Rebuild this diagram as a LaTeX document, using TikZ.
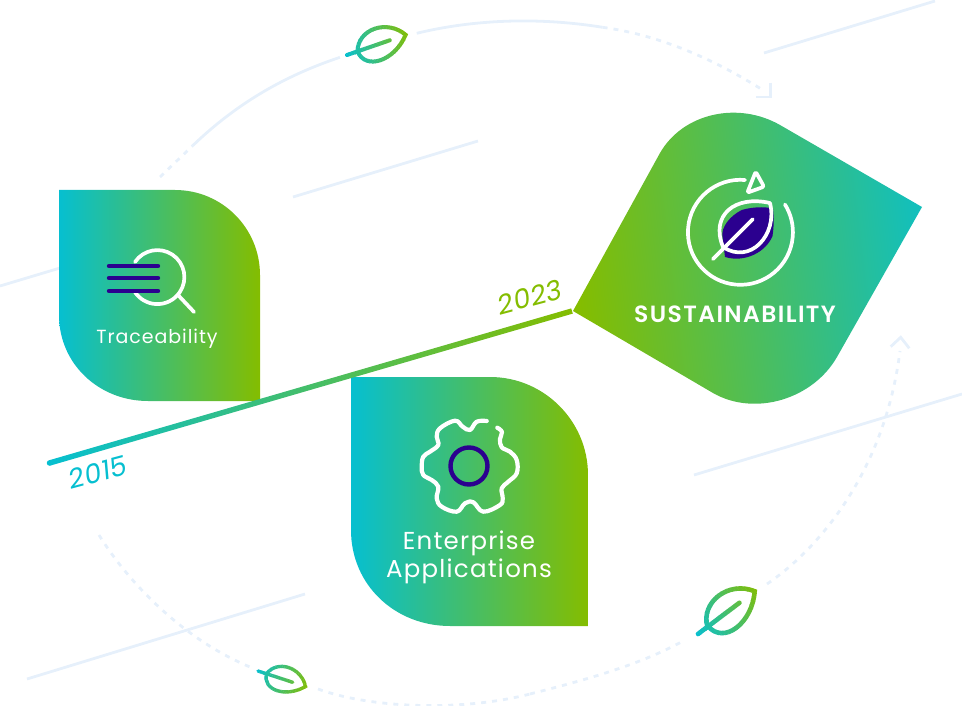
\documentclass[tikz,border=0pt]{standalone}
\usepackage{fontspec}
\usepackage{xcolor}
\usepackage{tikz}
\setmainfont{Poppins}
\newfontfamily\spacedfont[LetterSpace=5]{Poppins}
\newfontfamily\headfont[LetterSpace=6]{Poppins SemiBold}
\newfontfamily\yearfont[LetterSpace=2]{Poppins}
\definecolor{leafTeal}{HTML}{06BFD0}
\definecolor{leafLime}{HTML}{84BD00}
\definecolor{inkBlue}{HTML}{2B008F}
\definecolor{paleBlue}{HTML}{E6F0FB}
\tikzstyle{paleline} = [draw=paleBlue, line width=2.8pt]
\tikzstyle{paledash} = [paleline, dash pattern=on 5pt off 6pt]
\tikzstyle{petal} = [left color=leafTeal, right color=leafLime]
\tikzstyle{iconline} = [draw=white, line width=3.7pt, line cap=round, line join=round]
\tikzstyle{inkline} = [draw=inkBlue, line cap=round]
\tikzstyle{caption} = [text=white, anchor=base, inner sep=0pt]
\tikzstyle{year} = [anchor=center, inner sep=0pt, rotate=15, font=\yearfont\itshape\fontsize{27}{27}\selectfont]
\tikzset{
  leafmark/.pic={
    \foreach \i in {0,...,24} {
      \pgfmathsetmacro{\leafmix}{100-4*\i}
      \begin{scope}
        \clip ({-0.05+0.044*\i},-1) rectangle ({-0.05+0.044*(\i+1)+0.004},1);
        \draw[draw=leafTeal!\leafmix!leafLime, line join=miter] (0.18,0) .. controls (0.2,0.34) and (0.7,0.34) .. (1,0) .. controls (0.8,-0.34) and (0.3,-0.34) .. cycle;
        \draw[draw=leafTeal!\leafmix!leafLime, line cap=round] (0,0) -- (0.73,0);
      \end{scope}
    }
  }
}

\begin{document}
\begin{tikzpicture}[x=1pt, y=-1pt]
    \useasboundingbox (0,0) rectangle (962,706);

    % Pale lines
    \draw [paleline] (764,53) -- (935,1);
    \draw [paleline] (293,197) -- (478,141);
    \draw [paleline] (0,286) -- (70,265);
    \draw [paleline] (694,475) -- (962,394);
    \draw [paleline] (27,679) -- (305,594);

    % Pale circle
    \draw [paledash] (160,177) -- (192.7,145.7);
    \draw [paleline] (192.7,145.7) .. controls (240,100) and (290,74) .. (340,57.3);
    \draw [paleline] (416.7,33.3) .. controls (480,18) and (545,18) .. (602.6,27.3);
    \draw [paledash] (602.6,27.3) .. controls (660,35) and (715,60) .. (761.6,89.3);
    \draw [paleline] (770.5,82.7) -- (770.5,97) -- (756,97);
    \draw [paledash] (99,535) .. controls (130,585) and (185,640) .. (250,667);
    \draw [paledash] (318,689) .. controls (370,708) and (460,712) .. (530,694);
    \draw [paledash] (530,694) .. controls (585,680) and (640,665) .. (685,640);
    \draw [paledash] (767,584) .. controls (820,548) and (885,470) .. (900,351);
    \draw [paleline] (890.7,346.7) -- (900.7,337.3) -- (909.3,348.3);

    % Leaves
    \pic [rotate=19, scale=62, line width=4pt] at (347,55) {leafmark};
    \pic [rotate=37, scale=71, line width=4.6pt] at (698,634) {leafmark};
    \pic [rotate=-18, scale=50, line width=3.4pt] at (258,671) {leafmark};

    % Petals
    \shade [petal] (59,190) -- (175,190) .. controls (222,190) and (260,228) .. (260,275) -- (260,401) -- (148,401) .. controls (99,401) and (59,364) .. (59,315) -- cycle;
    \shade [petal] (351,377) -- (490,377) .. controls (544,377) and (588,421) .. (588,475) -- (588,626) -- (450,626) .. controls (395,626) and (351,585) .. (351,530) -- cycle;
    \shade [left color=leafLime, middle color=leafLime!62!leafTeal, right color=leafTeal!90!leafLime, shading angle=97] (573,311) -- (660,153) .. controls (683,113) and (738,101) .. (780,125) -- (922,207) -- (837,357) .. controls (813,399) and (755,417) .. (713,393) -- cycle;

    % Timeline
    \fill [leafTeal] (49.5,463) circle (2.75);
    \shade [left color=leafTeal, right color=leafLime] (48.7,460.4) -- (571.2,308.4) -- (572.8,313.6) -- (50.3,465.6) -- cycle;
    \node (from) [year, text=leafTeal] at (98,472) {2015};
    \node (to) [year, text=leafLime] at (530,297) {2023};

    % Traceability
    \draw [iconline] (135,262) arc[start angle=146, end angle=-146, radius=27pt];
    \draw [iconline] (178,295) -- (194,312);
    \foreach \y in {266,278,291}
        \draw [inkline, line width=4.4pt] (109,\y) -- (158,\y);
    \node (trace) [caption, font=\fontsize{19}{19}\spacedfont] at (157,343) {Traceability};

    % Enterprise
    \draw [iconline, line width=4.2pt] plot [smooth, tension=0.65] coordinates {(486.7,421) (476.7,421.7) (470,430) (462.7,426.7) (455,420.7) (440,428.3) (436.7,436.7) (438.3,445) (430,451.7) (423.3,456.7) (421.7,466.7) (423.3,475) (431.7,480) (438.3,486.7) (436.7,498.3) (441.7,506.7) (456.7,511.7) (465,503.3) (473.3,502.3) (483.3,511.7) (500,505) (502.7,498.3) (501.7,488.3) (508.3,481.7) (516.7,473.3) (516.7,460) (510,451.7) (501.7,447.3) (500,439) (502,432) (497.3,427.7)};
    \draw [inkline, line width=4.4pt] (469,466) circle (18.5);
    \node (enter) [caption, font=\fontsize{24.5}{24.5}\spacedfont] at (469,549) {Enterprise};
    \node (apps) [caption, font=\fontsize{24.5}{24.5}\spacedfont] at (469,577) {Applications};

    % Sustainability
    \fill [inkBlue] (773,209) .. controls (770,207) and (755,206) .. (741.7,210) .. controls (730,216) and (721,227) .. (722.5,236.7) -- (725,257) .. controls (745,263) and (766,252) .. (772.5,236) .. controls (774,226) and (774,218) .. cycle;
    \draw [iconline] (745,180) arc[start angle=85, end angle=392, radius=52.5pt];
    \draw [iconline, rounded corners=2pt] (755.7,171.7) -- (764,186.7) -- (747.3,192.7) -- cycle;
    \draw [iconline] (723,247) .. controls (710,215) and (735,195) .. (770,203) .. controls (778,235) and (750,265) .. cycle;
    \draw [iconline] (713,259) -- (752.7,219.3);
    \node (green) [caption, font=\fontsize{23.5}{23.5}\headfont] at (735,322.7) {SUSTAINABILITY};
\end{tikzpicture}
\end{document}
